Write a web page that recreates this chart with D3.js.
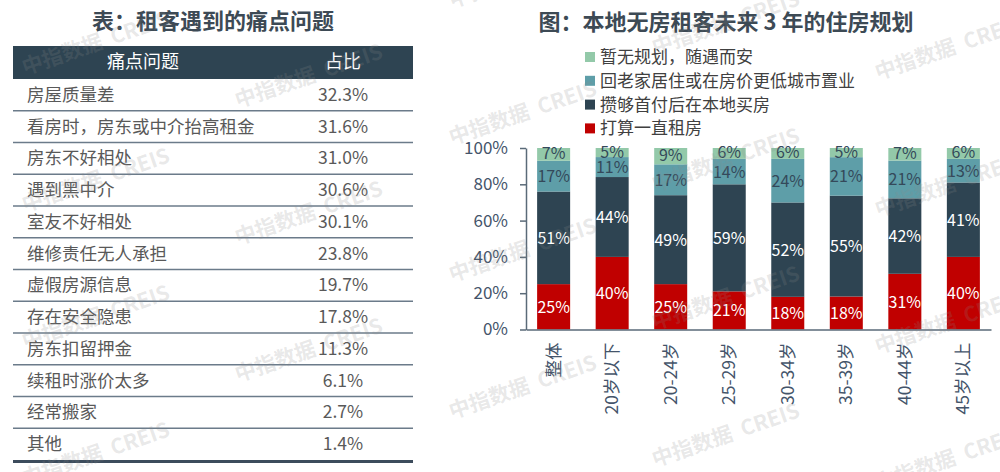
<!DOCTYPE html>
<html>
<head>
<meta charset="utf-8">
<script src="https://cdn.jsdelivr.net/npm/d3@7"></script>
<style>
  html, body { margin: 0; padding: 0; background: #fff; }
  svg { display: block; font-family: "Noto Sans CJK SC", "Noto Sans", sans-serif; }
</style>
</head>
<body>
<svg id="chart" width="1000" height="472"></svg>
<script>
// ---------- data ----------
const tableTitle = "表：租客遇到的痛点问题";
const tableHeaders = ["痛点问题", "占比"];
const painPoints = ["房屋质量差", "看房时，房东或中介抬高租金", "房东不好相处", "遇到黑中介", "室友不好相处",
  "维修责任无人承担", "虚假房源信息", "存在安全隐患", "房东扣留押金", "续租时涨价太多", "经常搬家", "其他"];
const painShares = [32.3, 31.6, 31.0, 30.6, 30.1, 23.8, 19.7, 17.8, 11.3, 6.1, 2.7, 1.4];

const chartTitle = "图：本地无房租客未来 3 年的住房规划";
const ageGroups = ["整体", "20岁以下", "20-24岁", "25-29岁", "30-34岁", "35-39岁", "40-44岁", "45岁以上"];
const seriesNames = ["打算一直租房", "攒够首付后在本地买房", "回老家居住或在房价更低城市置业", "暂无规划，随遇而安"];
const rentForever = [25, 40, 25, 21, 18, 18, 31, 40];
const buyLocal    = [51, 44, 49, 59, 52, 55, 42, 41];
const returnHome  = [17, 11, 17, 14, 24, 21, 21, 13];
const noPlan      = [7, 5, 9, 6, 6, 5, 7, 6];
const yTicks = [0, 20, 40, 60, 80, 100];
const watermarkText = "中指数据  CREIS";

// ---------- setup ----------
const svg = d3.select("#chart");
const seriesColors = ["#c00000", "#2e4452", "#5e9ea8", "#93c9a9"];
const labelColors = ["#ffffff", "#ffffff", "#34495a", "#34495a"];
const slate = "#2e4452";

// ---------- table ----------
const tbl = svg.append("g");
const tX0 = 13, tX1 = 413;
tbl.append("text").attr("x", 213).attr("y", 29).attr("text-anchor", "middle")
  .attr("font-size", 22).attr("font-weight", "bold").attr("fill", "#3d4a55").text(tableTitle);

tbl.append("rect").attr("x", tX0).attr("y", 46).attr("width", tX1 - tX0).attr("height", 33).attr("fill", slate);
tbl.append("text").attr("x", 143).attr("y", 68).attr("text-anchor", "middle")
  .attr("font-size", 18).attr("fill", "#fff").text(tableHeaders[0]);
tbl.append("text").attr("x", 343).attr("y", 68).attr("text-anchor", "middle")
  .attr("font-size", 18).attr("fill", "#fff").text(tableHeaders[1]);

const rowScale = d3.scaleBand().domain(painPoints).range([79, 460]);
const rows = tbl.selectAll("g.row").data(painPoints).join("g").attr("class", "row")
  .attr("transform", d => `translate(0,${rowScale(d)})`);
rows.append("text").attr("x", 27).attr("y", rowScale.bandwidth() / 2 + 6)
  .attr("font-size", 17.5).attr("fill", "#595959").text(d => d);
rows.append("text").attr("x", 343).attr("y", rowScale.bandwidth() / 2 + 6).attr("text-anchor", "middle")
  .attr("font-size", 17.5).attr("fill", "#595959").text((d, i) => painShares[i].toFixed(1) + "%");
rows.filter((d, i) => i < painPoints.length - 1).append("line")
  .attr("x1", tX0).attr("x2", tX1).attr("y1", rowScale.bandwidth()).attr("y2", rowScale.bandwidth())
  .attr("stroke", "#6b7b8a").attr("stroke-width", 1.5);
tbl.append("line").attr("x1", tX0).attr("x2", tX1).attr("y1", 461.5).attr("y2", 461.5)
  .attr("stroke", "#3c4c5c").attr("stroke-width", 3);

// ---------- chart ----------
const ch = svg.append("g");
ch.append("text").attr("x", 726).attr("y", 30).attr("text-anchor", "middle")
  .attr("font-size", 22).attr("font-weight", "bold").attr("fill", "#3d4a55").text(chartTitle);

// legend (top to bottom reversed order)
const legendOrder = [3, 2, 1, 0];
const lg = ch.selectAll("g.lg").data(legendOrder).join("g").attr("class", "lg")
  .attr("transform", (d, i) => `translate(585,${57 + i * 23.8})`);
lg.append("rect").attr("x", 0).attr("y", -5).attr("width", 10).attr("height", 10).attr("fill", d => seriesColors[d]);
lg.append("text").attr("x", 15).attr("y", 6).attr("font-size", 17).attr("fill", "#404040").text(d => seriesNames[d]);

const x = d3.scaleBand().domain(ageGroups).range([526, 991]).paddingInner(0.436).paddingOuter(0.19);
const y = d3.scaleLinear().domain([0, 1]).range([329.5, 148]);

const rows2 = ageGroups.map((g, i) => ({ group: g, s0: rentForever[i], s1: buyLocal[i], s2: returnHome[i], s3: noPlan[i] }));
const stack = d3.stack().keys(["s0", "s1", "s2", "s3"]).offset(d3.stackOffsetExpand);
const stacked = stack(rows2);

const layers = ch.selectAll("g.layer").data(stacked).join("g").attr("class", "layer")
  .attr("fill", (d, i) => seriesColors[i]);
layers.selectAll("rect").data(d => d).join("rect")
  .attr("x", d => x(d.data.group)).attr("width", x.bandwidth())
  .attr("y", d => y(d[1])).attr("height", d => y(d[0]) - y(d[1]));

stacked.forEach((layer, li) => {
  ch.append("g").selectAll("text").data(layer).join("text")
    .attr("x", d => x(d.data.group) + x.bandwidth() / 2)
    .attr("y", d => (y(d[0]) + y(d[1])) / 2 + (li === 3 ? 5 : 6))
    .attr("text-anchor", "middle").attr("font-size", 16).attr("fill", labelColors[li])
    .text(d => d.data[layer.key] + "%");
});

// axes
const yAxis = ch.append("g").attr("transform", "translate(526,0)")
  .call(d3.axisLeft(y).tickValues(yTicks.map(v => v / 100)).tickFormat(v => Math.round(v * 100) + "%")
    .tickSize(6).tickSizeOuter(0).tickPadding(12));
yAxis.select(".domain").attr("stroke", "#5a6a78").attr("stroke-width", 1.5);
yAxis.selectAll(".tick line").attr("stroke", "#5a6a78").attr("stroke-width", 1.5);
yAxis.selectAll(".tick text").attr("font-size", 17).attr("fill", "#44546a")
  .attr("font-family", "'Noto Sans CJK SC', 'Noto Sans', sans-serif");

const xAxis = ch.append("g").attr("transform", "translate(0,329.5)")
  .call(d3.axisBottom(x).tickSize(0).tickSizeOuter(0).tickPadding(0));
xAxis.select(".domain").attr("stroke", "#5a6a78").attr("stroke-width", 1.5);
xAxis.selectAll(".tick text")
  .attr("font-size", 17.5).attr("fill", "#44546a")
  .attr("font-family", "'Noto Sans CJK SC', 'Noto Sans', sans-serif")
  .attr("text-anchor", "end").attr("dy", null).attr("y", 0).attr("x", 0)
  .attr("transform", "translate(6,13) rotate(-90)");

// ---------- watermarks ----------
const wmPos = [
  [25, 75], [25, 212], [25, 349], [25, 486],
  [238, 108], [238, 245], [238, 382],
  [452, 8], [452, 145], [452, 282], [452, 419],
  [655, 55], [655, 192], [655, 330], [655, 467],
  [878, 80], [878, 217], [878, 354], [878, 491]
];
svg.append("g").selectAll("text").data(wmPos).join("text")
  .attr("transform", d => `translate(${d[0]},${d[1]}) rotate(-19)`)
  .attr("font-size", 21).attr("font-weight", "bold").attr("fill", "#8a8a8a").attr("fill-opacity", 0.2)
  .attr("xml:space", "preserve").style("white-space", "pre")
  .text(watermarkText);
</script>
</body>
</html>
